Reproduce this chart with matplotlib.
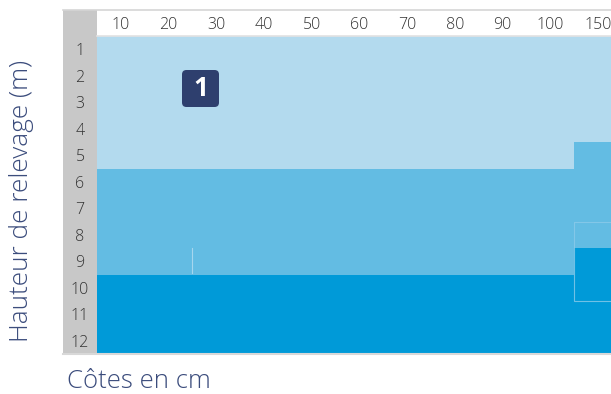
import matplotlib
matplotlib.use("Agg")
import matplotlib.pyplot as plt
from matplotlib.patches import Rectangle, FancyBboxPatch

# Columns (cotes en cm) and rows (hauteur de relevage en m)
col_labels = ['10', '20', '30', '40', '50', '60', '70', '80', '90', '100', '150']
row_labels = ['1', '2', '3', '4', '5', '6', '7', '8', '9', '10', '11', '12']

# last row of each zone, per column
zone1_end = [5, 5, 5, 5, 5, 5, 5, 5, 5, 5, 4]
zone2_end = [9, 9, 9, 9, 9, 9, 9, 9, 9, 9, 8]
n_rows = 12

c_light = '#B3DAEE'
c_mid = '#63BCE3'
c_dark = '#009AD8'
c_gray = '#C8C8C8'
c_navy = '#2E3F6E'
c_title = '#3B4C7C'
c_tick = '#333333'

plt.rcParams['font.family'] = ['Open Sans', 'DejaVu Sans']

W, H = 611, 394
fig = plt.figure(figsize=(W / 100, H / 100), dpi=100)

# table area in pixels: x 63..611, y 9.5..354
ax = fig.add_axes([63 / W, 1 - 354 / H, (W - 63) / W, (354 - 9.5) / H])
x_left, x_right = -0.713, 10.776
ax.set_xlim(x_left, x_right)
ax.set_ylim(n_rows + 0.5, -0.5)
ax.axis('off')

xs = list(range(len(col_labels)))
top = [0.5] * len(xs)
z1 = [e + 0.5 for e in zone1_end]
z2 = [e + 0.5 for e in zone2_end]
bot = [n_rows + 0.5] * len(xs)

ax.bar(xs, [b - a for a, b in zip(top, z1)], bottom=top, width=1, align='edge',
       color=c_light, linewidth=0)
ax.bar(xs, [b - a for a, b in zip(z1, z2)], bottom=z1, width=1, align='edge',
       color=c_mid, linewidth=0)
ax.bar(xs, [b - a for a, b in zip(z2, bot)], bottom=z2, width=1, align='edge',
       color=c_dark, linewidth=0)

# header row and gray row-label column
ax.add_patch(Rectangle((0, -0.5), x_right, 1, facecolor='white', edgecolor='none'))
ax.add_patch(Rectangle((x_left, -0.5), -x_left, n_rows + 1, facecolor=c_gray,
                       edgecolor='none'))
ax.plot([x_left, x_right], [-0.5, -0.5], color='#D5D5D5', lw=1.2, clip_on=False)
ax.plot([0, x_right], [0.5, 0.5], color='#E2E2E2', lw=1.2)
ax.plot([x_left, x_right], [n_rows + 0.5, n_rows + 0.5], color='#D8D8D8', lw=1.5,
        clip_on=False)

# faint outlines
ax.add_patch(Rectangle((10, 7.5), 1, 3, facecolor='none', edgecolor='#8CCBEA',
                       lw=0.8, alpha=0.8))
ax.plot([2, 2], [8.5, 9.45], color='#A6D6EE', lw=0.8)

for i, lab in enumerate(col_labels):
    ax.text(i + 0.5, 0.08, lab, ha='center', va='center', fontsize=11.5,
            color=c_tick, fontweight='light')
for j, lab in enumerate(row_labels):
    ax.text(x_left / 2, j + 1.08, lab, ha='center', va='center', fontsize=11.5,
            color=c_tick, fontweight='light')

# badge "1"
bx = fig.add_axes([182 / W, 1 - 107 / H, 37 / W, 37 / H])
bx.axis('off')
bx.set_xlim(0, 1)
bx.set_ylim(0, 1)
bx.add_patch(FancyBboxPatch((0.06, 0.06), 0.88, 0.88,
                            boxstyle='round,pad=0.06,rounding_size=0.12',
                            facecolor=c_navy, edgecolor='none'))
bx.text(0.5, 0.5, '1', ha='center', va='center', fontsize=19, fontweight='bold',
        color='white')

fig.text(22 / W, 1 - 201 / H, 'Hauteur de relevage (m)', rotation=90,
         ha='center', va='center', fontsize=18.8, color=c_title, fontweight='light')
fig.text(67 / W, 1 - 381 / H, 'Côtes en cm', ha='left', va='center',
         fontsize=18.5, color=c_title, fontweight='light')

fig.savefig('out.png', dpi=100)
